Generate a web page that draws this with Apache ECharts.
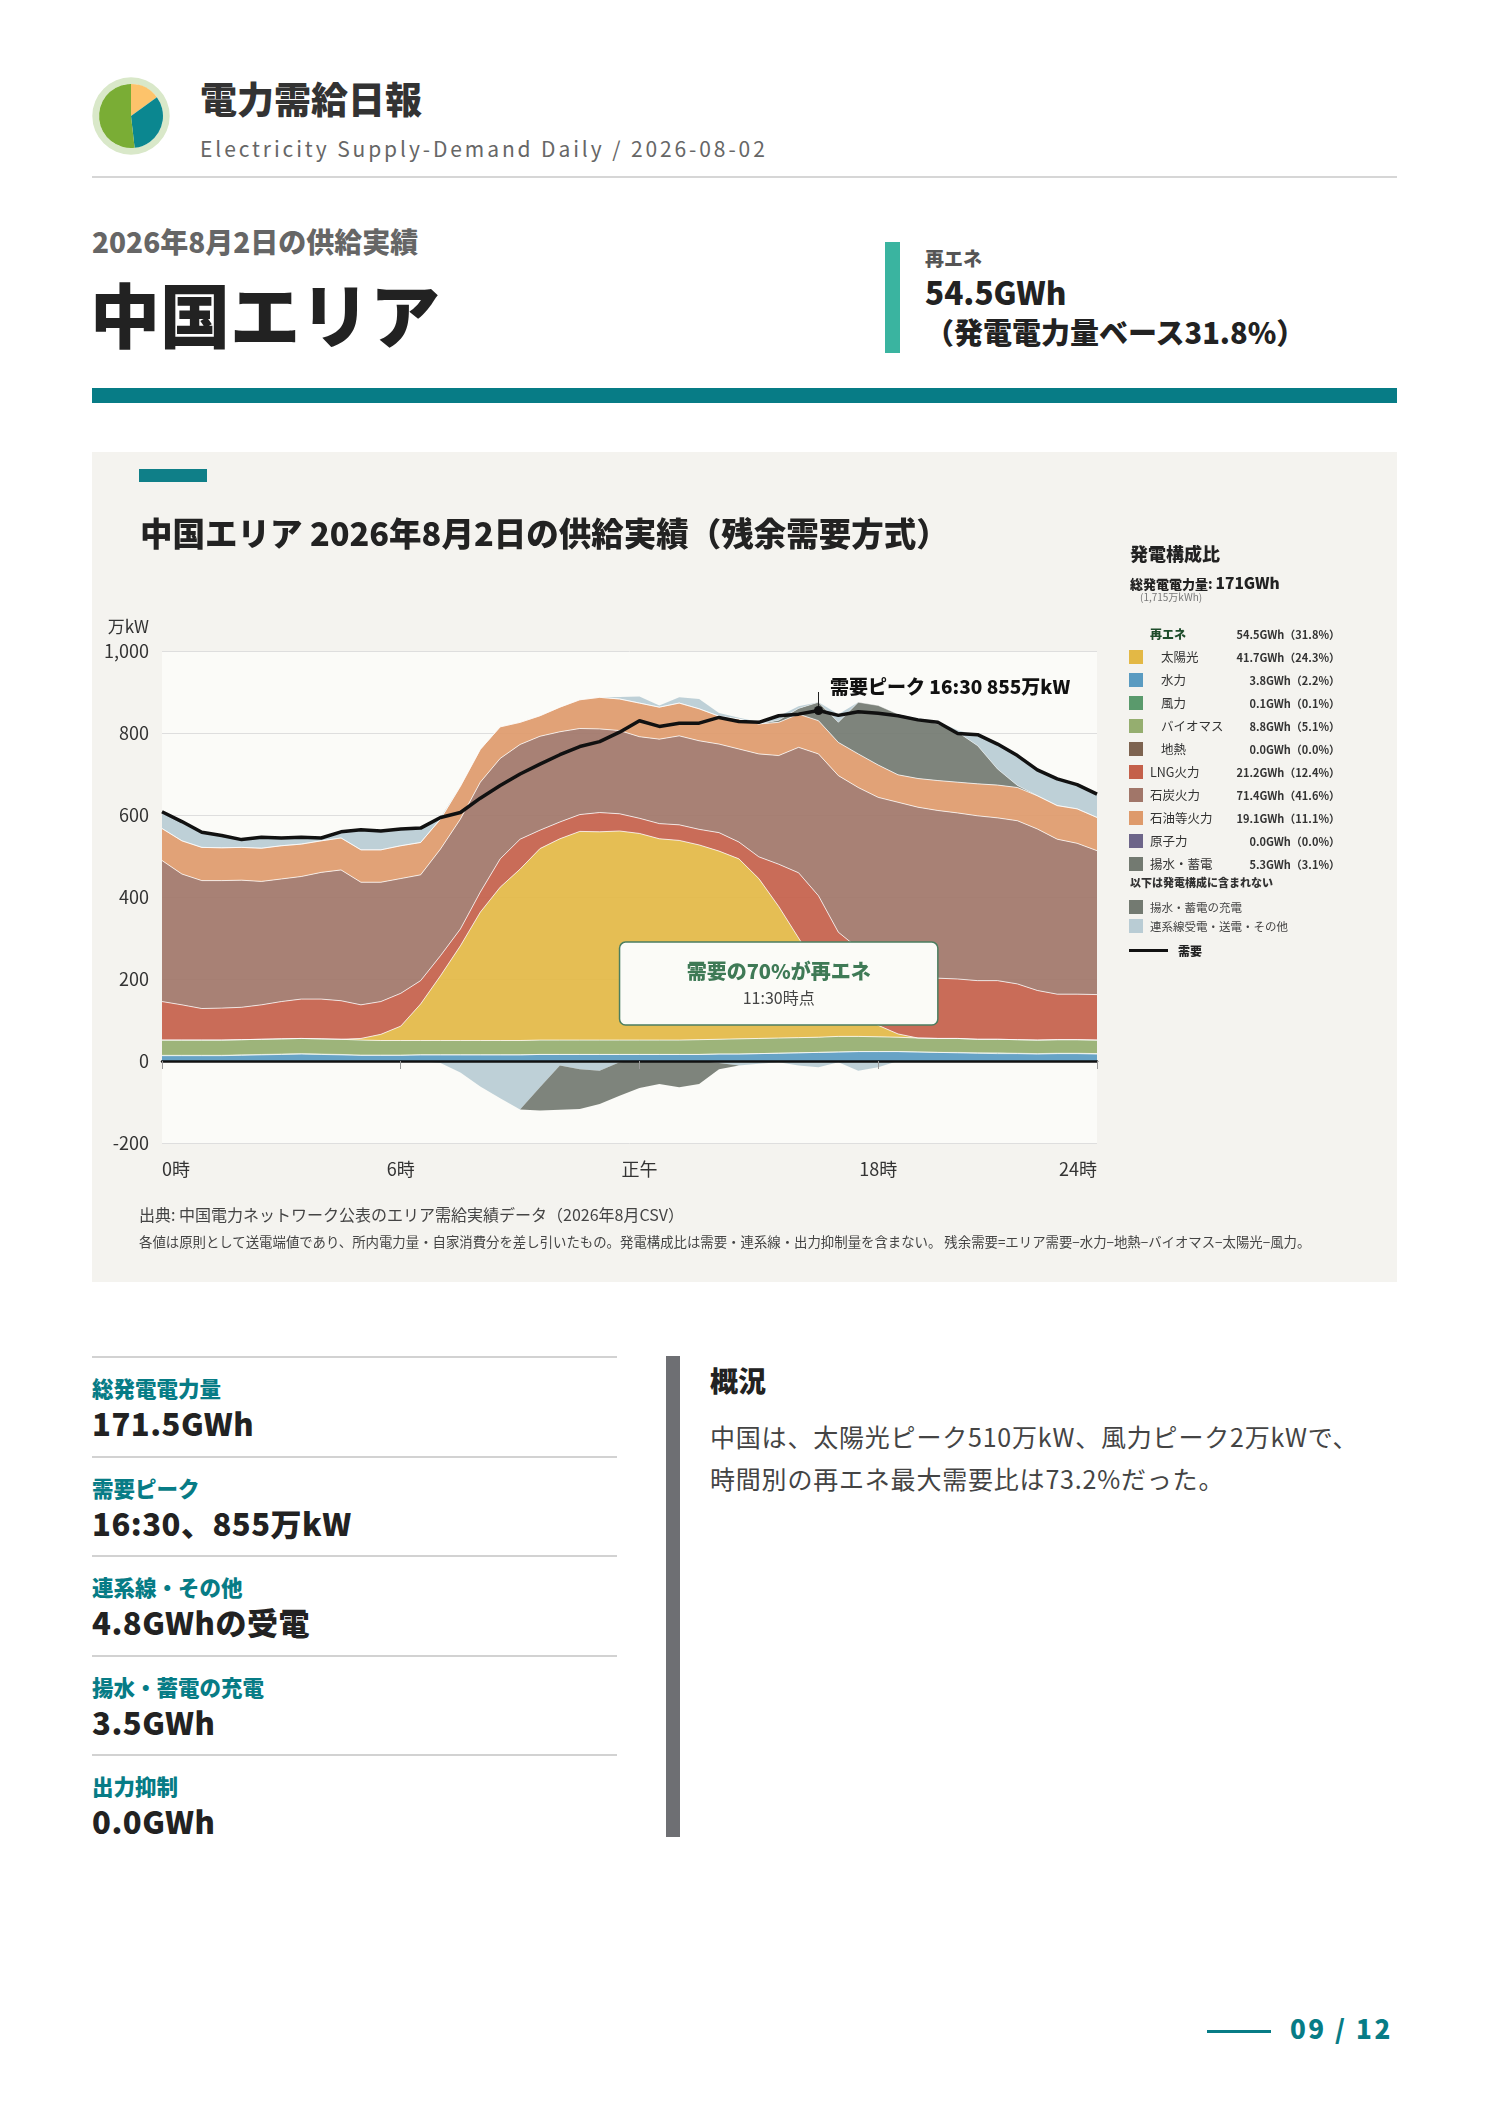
<!DOCTYPE html>
<html lang="ja">
<head>
<meta charset="utf-8">
<title>電力需給日報 中国エリア 2026-08-02</title>
<script src="https://cdn.jsdelivr.net/npm/echarts@6/dist/echarts.min.js"></script>
<style>
html, body { margin: 0; padding: 0; background: #fff; }
body { width: 1488px; height: 2105px; position: relative; overflow: hidden;
       font-family: "Noto Sans CJK JP", "Noto Sans", sans-serif; color: #222; }
.t { position: absolute; white-space: nowrap; }
.b { font-weight: 700; }
.h { font-weight: 900; }
.box { position: absolute; }
#panel { position: absolute; left: 92px; top: 452px; width: 1305px; height: 830px; background: #f4f3ef; }
#chart { position: absolute; left: 0; top: 0; width: 1305px; height: 830px; }
#logo { position: absolute; left: 92px; top: 77px; width: 78px; height: 78px; }
.sw { position: absolute; width: 14px; height: 14px; }
</style>
</head>
<body>

<div id="logo"></div>
<div class="t h" style="left:200px;top:78px;font-size:37px;line-height:40px;color:#333;">電力需給日報</div>
<div class="t" style="left:200px;top:135px;font-size:21px;line-height:26px;color:#666;letter-spacing:2.9px;">Electricity Supply-Demand Daily / 2026-08-02</div>
<div class="box" style="left:92px;top:176px;width:1305px;height:2px;background:#d6d6d6;"></div>

<div class="t h" style="left:92px;top:225px;font-size:28px;line-height:32px;color:#666;">2026年8月2日の供給実績</div>
<div class="t h" style="left:90px;top:275px;font-size:70px;line-height:76px;color:#222;">中国エリア</div>
<div class="box" style="left:885px;top:242px;width:15px;height:111px;background:#3ab4a0;"></div>
<div class="t h" style="left:925px;top:246px;font-size:19px;line-height:24px;color:#555;">再エネ</div>
<div class="t h" style="left:925px;top:273px;font-size:31.5px;line-height:36px;color:#222;">54.5GWh</div>
<div class="t h" style="left:925px;top:314px;font-size:29px;line-height:34px;color:#222;">（発電電力量ベース31.8%）</div>
<div class="box" style="left:92px;top:388px;width:1305px;height:15px;background:#077c86;"></div>

<div id="panel"><div id="chart"></div></div>
<div class="box" style="left:139px;top:469px;width:68px;height:13px;background:#0f7f88;"></div>
<div class="t h" style="left:140px;top:514px;font-size:32.5px;line-height:36px;color:#222;">中国エリア 2026年8月2日の供給実績（残余需要方式）</div>
<div id="legend"></div>
<div class="t" style="left:139px;top:1204px;font-size:16px;line-height:20px;color:#444;">出典: 中国電力ネットワーク公表のエリア需給実績データ（2026年8月CSV）</div>
<div class="t" style="left:139px;top:1232px;font-size:13.4px;line-height:18px;color:#444;">各値は原則として送電端値であり、所内電力量・自家消費分を差し引いたもの。発電構成比は需要・連系線・出力抑制量を含まない。 残余需要=エリア需要−水力−地熱−バイオマス−太陽光−風力。</div>

<div id="stats"></div>
<div class="box" style="left:666px;top:1356px;width:14px;height:481px;background:#6e6f73;"></div>
<div class="t h" style="left:710px;top:1364px;font-size:28px;line-height:32px;color:#222;">概況</div>
<div class="t" style="left:710px;top:1415px;font-size:25px;line-height:42px;color:#444;letter-spacing:0.8px;">中国は、太陽光ピーク510万kW、風力ピーク2万kWで、<br>時間別の再エネ最大需要比は73.2%だった。</div>

<div class="box" style="left:1207px;top:2030px;width:64px;height:3px;background:#077c86;"></div>
<div class="t h" style="left:1290px;top:2013px;font-size:26px;line-height:30px;color:#077c86;letter-spacing:2.5px;">09 / 12</div>

<script>
// 30分値（万kW）、0:00〜23:30
var times = ['0:00','0:30','1:00','1:30','2:00','2:30','3:00','3:30','4:00','4:30','5:00','5:30',
             '6:00','6:30','7:00','7:30','8:00','8:30','9:00','9:30','10:00','10:30','11:00','11:30',
             '12:00','12:30','13:00','13:30','14:00','14:30','15:00','15:30','16:00','16:30','17:00','17:30',
             '18:00','18:30','19:00','19:30','20:00','20:30','21:00','21:30','22:00','22:30','23:00','23:30'];

var hydro   = [13,13,13,13,14,15,16,17,16,15,14,14, 14,15,15,15,15,15,15,16,16,16,16,16,
               16,16,16,16,17,17,18,19,20,21,22,23, 23,23,22,21,20,19,18,18,17,18,18,17];
var wind    = [1,1,1,1,1,1,1,1,1,1,0,0, 0,0,0,0,0,0,0,0,0,0,0,0,
               0,0,0,0,0,0,0,0,0,0,0,0, 0,0,0,0,1,1,2,1,1,1,1,1];
var biomass = [37,37,37,37,37,37,37,37,37,37,37,36, 36,35,35,35,35,35,35,35,35,35,35,35,
               35,35,35,36,36,37,37,37,37,37,38,37, 36,35,34,34,34,33,33,33,33,33,33,33];
var geo     = [0,0,0,0,0,0,0,0,0,0,0,0, 0,0,0,0,0,0,0,0,0,0,0,0,
               0,0,0,0,0,0,0,0,0,0,0,0, 0,0,0,0,0,0,0,0,0,0,0,0];
var solar   = [0,0,0,0,0,0,0,0,0,0,4,15, 35,89,158,231,313,374,418,467,491,509,508,510,
               504,491,487,475,459,439,390,321,243,165,100,55, 28,8,0,0,0,0,0,0,0,0,0,0];
var lng     = [94,86,77,78,79,84,91,96,97,94,82,80, 80,57,49,41,49,69,73,45,41,41,47,42,
               37,37,38,38,45,41,53,103,159,180,154,160, 158,154,151,147,145,143,143,136,121,111,111,111];
var coal    = [344,319,312,311,310,301,299,299,309,319,299,291, 280,258,260,268,268,245,231,229,220,210,204,203,
               199,206,217,216,216,227,251,265,306,346,382,392, 398,411,412,409,405,402,397,398,394,378,368,351];
var oil     = [78,81,81,80,80,81,81,79,77,78,79,79, 80,79,73,80,80,77,54,50,60,70,77,77,
               82,78,80,78,68,73,73,81,81,81,81,82, 79,67,70,73,75,78,80,81,81,82,84,81];
var nuclear = [0,0,0,0,0,0,0,0,0,0,0,0, 0,0,0,0,0,0,0,0,0,0,0,0,
               0,0,0,0,0,0,0,0,0,0,0,0, 0,0,0,0,0,0,0,0,0,0,0,0];
var pumpGen = [0,0,0,0,0,0,0,0,0,0,0,0, 0,0,0,0,0,0,0,0,0,0,0,0,
               0,0,0,0,0,0,0,5,14,45,49,126, 145,148,145,138,122,93,39,5,0,0,0,0];
var tieIn   = [41,47,37,30,20,27,19,17,7,15,49,47, 41,35,4,0,0,0,0,0,0,0,0,5,
               16,4,14,24,8,3,5,10,5,0,20,0, 0,0,2,6,5,24,65,73,63,65,59,57];
var tieOut  = [0,0,0,0,0,0,0,0,0,0,0,0, 0,0,-5,-28,-62,-91,-118,-64,-11,-20,-24,-3,
               0,0,0,0,-5,-11,-7,-3,-11,-15,-3,-24, -15,0,0,0,0,0,0,0,0,0,0,0];
var pumpChg = [0,0,0,0,0,0,0,0,0,0,0,0, 0,0,0,0,0,0,0,-57,-108,-97,-81,-82,
               -66,-56,-64,-56,-15,0,0,0,0,0,0,0, 0,0,0,0,0,0,0,0,0,0,0,0];
var demand  = [608,584,558,550,540,546,544,546,544,559,564,561, 566,568,594,606,641,672,700,724,747,767,779,802,
               830,816,824,824,838,828,826,842,846,855,843,852, 848,842,832,826,799,796,773,745,710,688,674,651];

var xTickIdx  = [0, 12, 24, 36, 47];
var xTickText = ['0時', '6時', '正午', '18時', '24時'];
var yTicks    = [-200, 0, 200, 400, 600, 800, 1000];

var peakIdx = 33, peakValue = 855;
var peakLabel = '需要ピーク 16:30 855万kW';
var noteFrom = 23, noteTo = 39, noteTop = 290, noteBottom = 88;
var noteTitle = '需要の70%が再エネ', noteSub = '11:30時点';

// 凡例（発電構成比）
var mixNames  = ['太陽光','水力','風力','バイオマス','地熱','LNG火力','石炭火力','石油等火力','原子力','揚水・蓄電'];
var mixValues = ['41.7GWh（24.3%）','3.8GWh（2.2%）','0.1GWh（0.1%）','8.8GWh（5.1%）','0.0GWh（0.0%）',
                 '21.2GWh（12.4%）','71.4GWh（41.6%）','19.1GWh（11.1%）','0.0GWh（0.0%）','5.3GWh（3.1%）'];
var mixColors = ['#e3b845','#5a9bc1','#5a9a6c','#95ae6f','#7d6350','#c4604a','#a17669','#de9a6b','#6d6589','#737a71'];
var mixIndent = [true,true,true,true,true,false,false,false,false,false];
var tieColor  = '#b9ccd4';
var reValue   = '54.5GWh（31.8%）';

var statLabels = ['総発電電力量','需要ピーク','連系線・その他','揚水・蓄電の充電','出力抑制'];
var statValues = ['171.5GWh','16:30、855万kW','4.8GWhの受電','3.5GWh','0.0GWh'];

var logoShares = [15, 33.2, 51.8];
var logoColors = ['#fdc36b', '#0b8790', '#7aad35'];

// ---- 凡例 HTML
function txt(left, center, size, lh, extra, s) {
  return '<div class="t" style="left:' + left + 'px;top:' + (center - lh / 2) + 'px;font-size:' + size +
         'px;line-height:' + lh + 'px;' + extra + '">' + s + '</div>';
}
var lg = '';
lg += txt(1130, 553, 18, 22, 'font-weight:900;color:#222;', '発電構成比');
lg += txt(1130, 582, 13, 18, 'font-weight:900;color:#222;', '総発電電力量: <span style="font-size:15.5px;">171GWh</span>');
lg += txt(1140, 597, 10, 12, 'color:#777;', '(1,715万kWh)');
lg += txt(1150, 634, 12, 16, 'font-weight:900;color:#1e4d2b;', '再エネ');
lg += '<div class="t" style="left:1200px;width:140px;text-align:right;top:626px;font-size:11px;line-height:16px;font-weight:700;color:#333;">' + reValue + '</div>';
for (var i = 0; i < mixNames.length; i++) {
  var cy = 656.7 + 23.07 * i;
  lg += '<div class="sw" style="left:1129px;top:' + (cy - 7) + 'px;background:' + mixColors[i] + ';"></div>';
  lg += txt(mixIndent[i] ? 1161 : 1150, cy, 12.5, 16, 'color:#333;', mixNames[i]);
  lg += '<div class="t" style="left:1200px;width:140px;text-align:right;top:' + (cy - 8) +
        'px;font-size:11px;line-height:16px;font-weight:700;color:#333;">' + mixValues[i] + '</div>';
}
lg += txt(1130, 882, 11, 16, 'font-weight:900;color:#333;', '以下は発電構成に含まれない');
lg += '<div class="sw" style="left:1129px;top:900px;background:' + mixColors[9] + ';"></div>';
lg += txt(1150, 907, 11.5, 16, 'color:#444;', '揚水・蓄電の充電');
lg += '<div class="sw" style="left:1129px;top:919px;background:' + tieColor + ';"></div>';
lg += txt(1150, 926, 11.5, 16, 'color:#444;', '連系線受電・送電・その他');
lg += '<div class="box" style="left:1129px;top:949px;width:39px;height:3px;background:#111;"></div>';
lg += txt(1178, 951, 12, 16, 'font-weight:900;color:#222;', '需要');
document.getElementById('legend').innerHTML = lg;

// ---- 下部の数値
var st = '';
for (var k = 0; k < statLabels.length; k++) {
  var rowTop = 1356 + 99.5 * k;
  st += '<div class="box" style="left:92px;top:' + rowTop + 'px;width:525px;height:2px;background:#d2d2d2;"></div>';
  st += txt(92, rowTop + 32, 21.5, 26, 'font-weight:900;color:#077c86;', statLabels[k]);
  st += txt(92, rowTop + 67, 31, 36, 'font-weight:900;color:#222;letter-spacing:0.5px;', statValues[k]);
}
document.getElementById('stats').innerHTML = st;

// ---- ロゴ
var logo = echarts.init(document.getElementById('logo'));
logo.setOption({
  animation: false,
  series: [
    { type: 'pie', radius: [32, 38.7], center: ['50%', '50%'], silent: true, label: { show: false },
      data: [{ value: 1, itemStyle: { color: '#d9e8c9' } }] },
    { type: 'pie', radius: [0, 32], center: ['50%', '50%'], startAngle: 90, clockwise: true, silent: true,
      label: { show: false },
      data: logoShares.map(function (v, j) { return { value: v, itemStyle: { color: logoColors[j] } }; }) }
  ]
});

// ---- 供給実績チャート
var chart = echarts.init(document.getElementById('chart'));

function layer(name, data, color, strategy, lineW) {
  return {
    name: name, type: 'line', stack: 'supply', stackStrategy: strategy,
    data: data, symbol: 'none', silent: true, z: 2,
    lineStyle: { color: 'rgba(255,255,255,0.75)', width: lineW },
    areaStyle: { color: color, opacity: 0.92 }
  };
}

var series = [
  layer('水力', hydro, mixColors[1], 'positive', 1),
  layer('風力', wind, mixColors[2], 'positive', 0.6),
  layer('バイオマス', biomass, mixColors[3], 'positive', 1),
  layer('地熱', geo, mixColors[4], 'positive', 0),
  layer('太陽光', solar, mixColors[0], 'positive', 1),
  layer('LNG火力', lng, mixColors[5], 'positive', 1),
  layer('石炭火力', coal, mixColors[6], 'positive', 1),
  layer('石油等火力', oil, mixColors[7], 'positive', 1),
  layer('原子力', nuclear, mixColors[8], 'positive', 0),
  layer('揚水・蓄電', pumpGen, mixColors[9], 'positive', 0.6),
  layer('連系線受電', tieIn, tieColor, 'positive', 0),
  layer('連系線送電', tieOut, tieColor, 'negative', 0),
  layer('揚水・蓄電の充電', pumpChg, mixColors[9], 'negative', 0),
  {
    name: '需要', type: 'line', data: demand, symbol: 'none', silent: true, z: 6,
    lineStyle: { color: '#111', width: 3.5 },
    markPoint: {
      silent: true, symbol: 'circle', symbolSize: 9, itemStyle: { color: '#111' },
      label: { show: true, position: [16, -29], align: 'left', verticalAlign: 'top',
               formatter: peakLabel, color: '#111', fontSize: 19, fontWeight: 900 },
      data: [{ coord: [peakIdx, peakValue] }]
    },
    markLine: {
      silent: true, symbol: ['none', 'none'], label: { show: false },
      lineStyle: { color: '#222', width: 1, type: 'solid' },
      data: [[{ coord: [peakIdx, peakValue] }, { coord: [peakIdx, 900] }]]
    }
  }
];

chart.setOption({
  animation: false,
  textStyle: { fontFamily: '"Noto Sans CJK JP", "Noto Sans", sans-serif' },
  grid: { left: 70, top: 199, width: 935, height: 492, show: true,
          backgroundColor: '#fbfbf8', borderWidth: 0 },
  xAxis: {
    type: 'category', data: times, boundaryGap: false, z: 5,
    axisLine: { onZero: true, lineStyle: { color: '#111', width: 2.5 } },
    axisTick: { show: true, length: 8, lineStyle: { color: '#999' },
                interval: function (idx) { return xTickIdx.indexOf(idx) >= 0; } },
    axisLabel: {
      interval: function (idx) { return xTickIdx.indexOf(idx) >= 0; },
      formatter: function (v, idx) { var p = xTickIdx.indexOf(idx); return p >= 0 ? xTickText[p] : ''; },
      margin: 17, fontSize: 18, color: '#333',
      alignMinLabel: 'left', alignMaxLabel: 'right'
    },
    splitLine: { show: false }
  },
  yAxis: {
    type: 'value', min: yTicks[0], max: yTicks[yTicks.length - 1], interval: 200,
    name: '万kW', nameLocation: 'end', nameGap: 16,
    nameTextStyle: { fontSize: 17, color: '#333', align: 'right', padding: [0, 13, 0, 0] },
    axisLine: { show: false }, axisTick: { show: false },
    axisLabel: { fontSize: 18, color: '#333', margin: 13,
                 formatter: function (v) { return v.toLocaleString('en-US'); } },
    splitLine: { lineStyle: { color: '#dedede', width: 1 } }
  },
  series: series
});

// 注記ボックス（11:30 の再エネ比率）
var p1 = chart.convertToPixel({ gridIndex: 0 }, [noteFrom, noteTop]);
var p2 = chart.convertToPixel({ gridIndex: 0 }, [noteTo, noteBottom]);
var cx = (p1[0] + p2[0]) / 2;
chart.setOption({
  graphic: [
    { type: 'rect', z: 100, silent: true,
      shape: { x: p1[0], y: p1[1], width: p2[0] - p1[0], height: p2[1] - p1[1], r: 6 },
      style: { fill: '#fbfbf7', stroke: '#4b7e60', lineWidth: 1.5 } },
    { type: 'text', z: 101, silent: true, x: cx, y: p1[1] + 29,
      style: { text: noteTitle, fill: '#3f7a56', align: 'center', verticalAlign: 'middle',
               font: '900 20px "Noto Sans CJK JP", sans-serif' } },
    { type: 'text', z: 101, silent: true, x: cx, y: p1[1] + 56,
      style: { text: noteSub, fill: '#444', align: 'center', verticalAlign: 'middle',
               font: '16px "Noto Sans CJK JP", sans-serif' } }
  ]
});
</script>
</body>
</html>
